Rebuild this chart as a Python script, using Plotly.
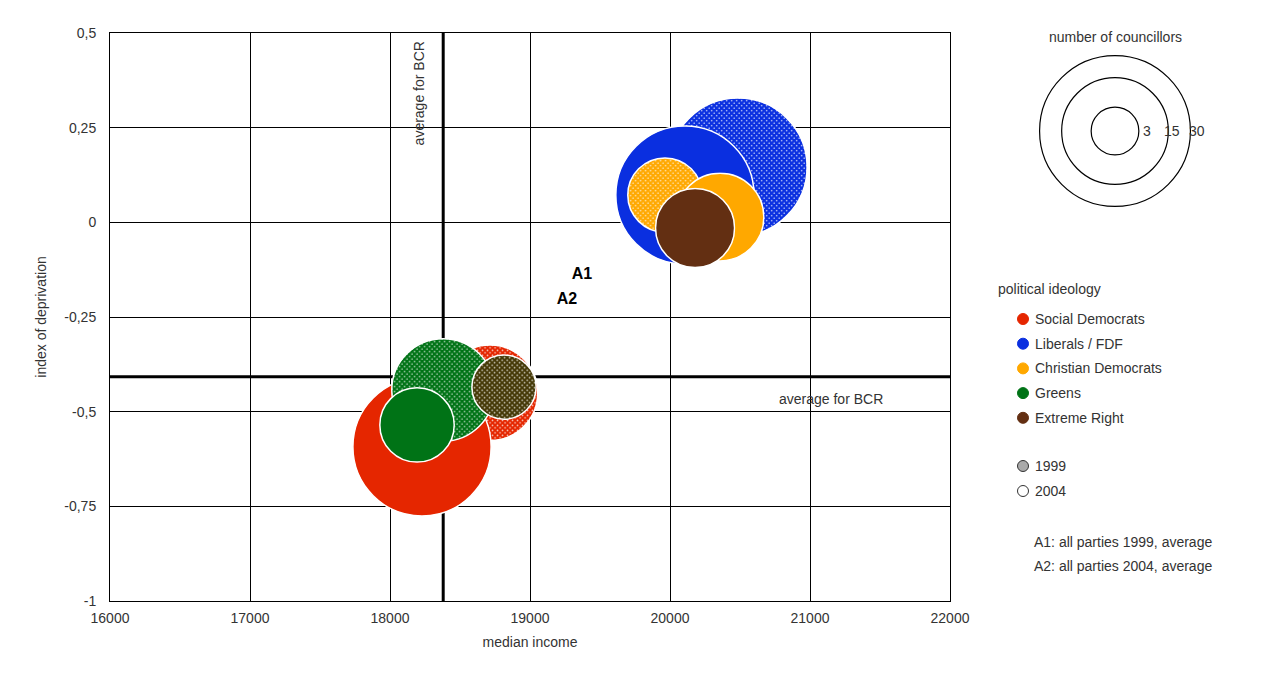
import base64
import plotly.graph_objects as go

# bubble data: party, year, median income, index of deprivation, councillors
party = ["Liberals / FDF", "Liberals / FDF", "Christian Democrats", "Christian Democrats", "Extreme Right",
         "Social Democrats", "Social Democrats", "Greens", "Extreme Right", "Greens"]
year = [1999, 2004, 1999, 2004, 2004, 1999, 2004, 1999, 1999, 2004]
income = [20486, 20107, 19964, 20357, 20179, 18714, 18229, 18379, 18814, 18193]
deprivation = [0.146, 0.072, 0.072, 0.014, -0.015, -0.45, -0.593, -0.443, -0.435, -0.535]
councillors = [27, 27, 8, 11, 9, 13, 27, 15, 6, 8]

party_names = ["Social Democrats", "Liberals / FDF", "Christian Democrats", "Greens", "Extreme Right"]
party_colors = ["#e52600", "#0a2fe0", "#ffa800", "#007316", "#632f12"]
dotted_colors = ["#e52600", "#0a2fe0", "#ffa800", "#007316", "#463a08"]
colors = dict(zip(party_names, party_colors))
colors_1999 = dict(zip(party_names, dotted_colors))

avg_income = 18380
avg_deprivation = -0.408
a_labels = ["A1", "A2"]
a_income = [19371, 19264]
a_deprivation = [-0.139, -0.205]

y_ticks = [0.5, 0.25, 0, -0.25, -0.5, -0.75, -1]
y_tick_text = ["0,5", "0,25", "0", "-0,25", "-0,5", "-0,75", "-1"]

FONT = "Liberation Sans"
GREY = "#333333"
PX_PER_X = 840 / 6000   # plot width / x range
PX_PER_Y = 568 / 1.5    # plot height / y range
PX_PER_SQRT = 13.5
OFF = 8  # page body margin


def bubble_svg(d, color, dotted):
    r = d / 2
    pattern = ""
    fill = color
    if dotted:
        pattern = (f'<defs><pattern id="p" width="5" height="5" patternUnits="userSpaceOnUse">'
                   f'<rect width="5" height="5" fill="{color}"/>'
                   f'<circle cx="1.25" cy="1.25" r="0.8" fill="#ffffff" fill-opacity="0.8"/>'
                   f'<circle cx="3.75" cy="3.75" r="0.8" fill="#ffffff" fill-opacity="0.8"/>'
                   f'</pattern></defs>')
        fill = "url(#p)"
    svg = (f'<svg xmlns="http://www.w3.org/2000/svg" width="{d:.1f}" height="{d:.1f}" '
           f'viewBox="0 0 {d:.1f} {d:.1f}">{pattern}'
           f'<circle cx="{r:.1f}" cy="{r:.1f}" r="{r - 1:.1f}" fill="{fill}" stroke="#ffffff" stroke-width="1.5"/></svg>')
    return "data:image/svg+xml;base64," + base64.b64encode(svg.encode()).decode()


fig = go.Figure()

images = []
for p, yr, xv, yv, n in zip(party, year, income, deprivation, councillors):
    d = 2 * PX_PER_SQRT * n ** 0.5
    c = colors_1999[p] if yr == 1999 else colors[p]
    images.append(dict(source=bubble_svg(d, c, yr == 1999), xref="x", yref="y",
                       x=xv, y=yv, sizex=d / PX_PER_X, sizey=d / PX_PER_Y, sizing="stretch",
                       xanchor="center", yanchor="middle", layer="above"))

fig.add_trace(go.Scatter(x=a_income, y=a_deprivation, mode="text", text=a_labels,
                         textfont=dict(family=FONT, size=16, color="#000000", weight="bold"),
                         showlegend=False, hoverinfo="skip"))


def px_x(px):
    return (px - 110) / 840


def px_y(py):
    return (601 - py) / 568


shapes = [
    dict(type="line", xref="x", yref="y", x0=avg_income, x1=avg_income, y0=-1, y1=0.5,
         line=dict(color="#000000", width=3), layer="below"),
    dict(type="line", xref="x", yref="y", x0=16000, x1=22000, y0=avg_deprivation, y1=avg_deprivation,
         line=dict(color="#000000", width=3), layer="below"),
]
# size legend rings
for n in [3, 15, 30]:
    r = PX_PER_SQRT * n ** 0.5 * 1.02
    shapes.append(dict(type="circle", xref="paper", yref="paper", xsizemode="pixel", ysizemode="pixel",
                       xanchor=px_x(1115), yanchor=px_y(131), x0=-r, x1=r, y0=-r, y1=r,
                       line=dict(color="#000000", width=1.2)))
# year symbols
shapes.append(dict(type="circle", xref="paper", yref="paper", xsizemode="pixel", ysizemode="pixel",
                   xanchor=px_x(1023), yanchor=px_y(466), x0=-5.5, x1=5.5, y0=-5.5, y1=5.5,
                   fillcolor="#aaaaaa", line=dict(color="#333333", width=1)))
shapes.append(dict(type="circle", xref="paper", yref="paper", xsizemode="pixel", ysizemode="pixel",
                   xanchor=px_x(1023), yanchor=px_y(491), x0=-5.5, x1=5.5, y0=-5.5, y1=5.5,
                   line=dict(color="#333333", width=1)))
# party colour dots
for i, c in enumerate(party_colors):
    shapes.append(dict(type="circle", xref="paper", yref="paper", xsizemode="pixel", ysizemode="pixel",
                       xanchor=px_x(1023), yanchor=px_y(319 + 24.7 * i), x0=-5.5, x1=5.5, y0=-5.5, y1=5.5,
                       fillcolor=c, line=dict(color=c, width=1)))


def px_note(text, px, py, anchor="left", size=14):
    return dict(text=text, xref="paper", yref="paper", x=px_x(px), y=px_y(py), xanchor=anchor,
                yanchor="middle", showarrow=False, font=dict(family=FONT, size=size, color=GREY))


annotations = [
    dict(text="average for BCR", xref="x", yref="y", x=18210, y=0.5, yanchor="top", textangle=-90,
         yshift=-6, showarrow=False, font=dict(family=FONT, size=14, color=GREY)),
    dict(text="average for BCR", xref="x", yref="y", x=21150, y=avg_deprivation, yanchor="top",
         xanchor="center", yshift=-12, showarrow=False, font=dict(family=FONT, size=14, color=GREY)),
    px_note("number of councillors", 1115, 37, "center"),
    px_note("3", 1147, 131, "center"), px_note("15", 1172, 131, "center"),
    px_note("30", 1197, 131, "center"),
    px_note("political ideology", 996, 289),
    px_note("1999", 1033, 466), px_note("2004", 1033, 491),
    px_note("A1: all parties 1999, average", 1032, 542),
    px_note("A2: all parties 2004, average", 1032, 566),
]
for i, name in enumerate(party_names):
    annotations.append(px_note(name, 1033, 319 + 24.7 * i))

fig.update_layout(
    width=1264, height=685,
    margin=dict(l=110 - OFF, r=314 + OFF, t=33 - OFF, b=84 + OFF),
    paper_bgcolor="#ffffff", plot_bgcolor="#ffffff",
    font=dict(family=FONT, size=14, color=GREY),
    images=images, shapes=shapes, annotations=annotations,
    showlegend=False,
)
fig.update_xaxes(range=[16000, 22000], dtick=1000, showgrid=True, gridcolor="#000000", gridwidth=1,
                 zeroline=False, showline=True, linecolor="#000000", mirror=True,
                 title=dict(text="median income", font=dict(size=14), standoff=12), tickfont=dict(size=14),
                 tickformat="d", ticklabelstandoff=4)
fig.update_yaxes(range=[-1, 0.5], tickvals=y_ticks, ticktext=y_tick_text, showgrid=True,
                 gridcolor="#000000", gridwidth=1, zeroline=False, showline=True, linecolor="#000000",
                 mirror=True, title=dict(text="index of deprivation", font=dict(size=14), standoff=14),
                 tickfont=dict(size=14), ticklabelstandoff=10)

fig.write_html("out.html")
